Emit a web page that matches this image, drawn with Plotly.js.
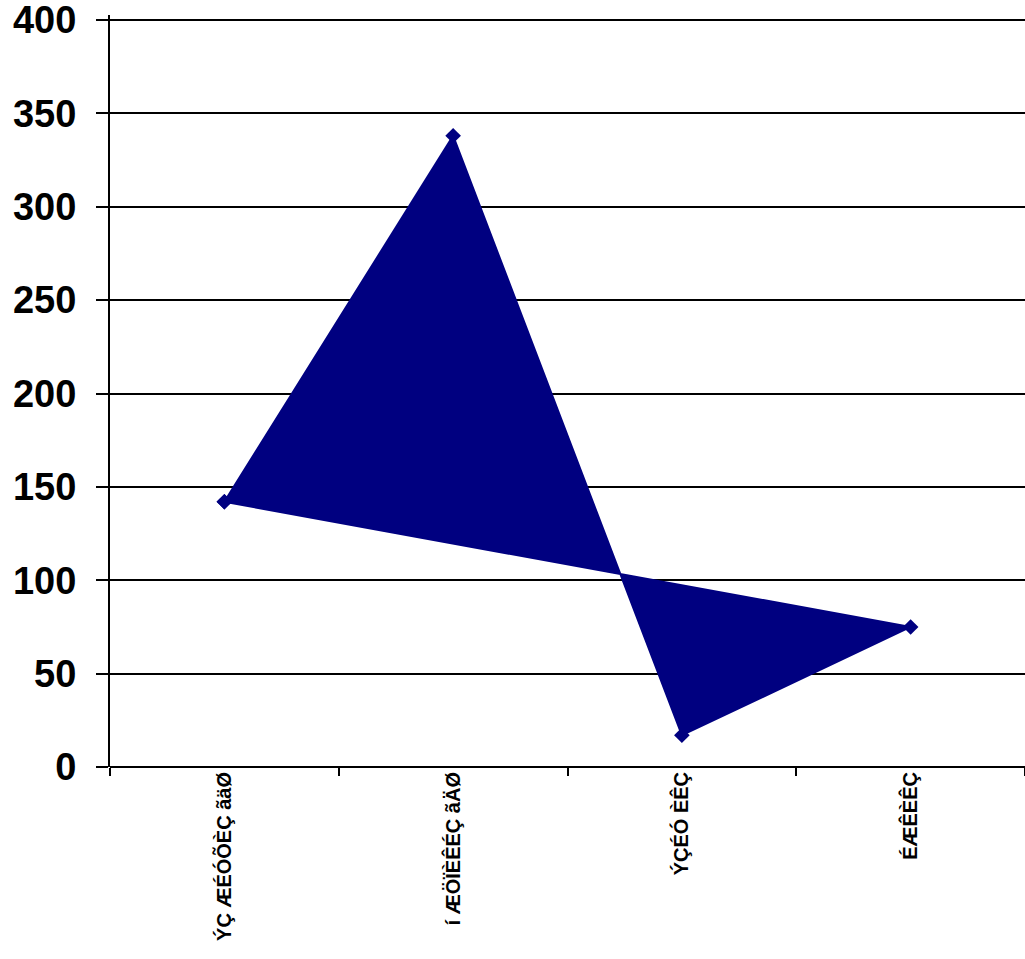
<!DOCTYPE html>
<html>
<head>
<meta charset="utf-8">
<script src="https://cdn.plot.ly/plotly-3.0.1.min.js"></script>
<style>html,body{margin:0;padding:0;background:#fff;}#chart{width:1025px;height:959px;}</style>
</head>
<body>
<div id="chart"></div>
<script>
const categories = ["ÝÇ ÆÉÓÕÈÇ ãäØ", "í ÆÖÏÈÊÉÇ ãÄØ", "ÝÇÉÓ ÈÊÇ", "ÉÆÊÈÊÇ"];
const values = [142, 338, 17, 75];
const yTicks = [0, 50, 100, 150, 200, 250, 300, 350, 400];

const xs = categories.concat([categories[0]]);
const ys = values.concat([values[0]]);

const trace = {
  x: xs,
  y: ys,
  type: "scatter",
  mode: "lines+markers",
  fill: "toself",
  fillcolor: "#000080",
  line: {color: "#000080", width: 2},
  marker: {symbol: "diamond", size: 12, color: "#000080"},
  hoverinfo: "skip",
  cliponaxis: false
};

const layout = {
  width: 1025,
  height: 959,
  margin: {l: 110, r: 0, t: 15, b: 192},
  paper_bgcolor: "#fff",
  plot_bgcolor: "#fff",
  showlegend: false,
  font: {family: "Liberation Sans, Arial, sans-serif", color: "#000"},
  xaxis: {
    type: "category",
    categoryorder: "array",
    categoryarray: categories,
    range: [-0.5, 3.5],
    showgrid: false,
    zeroline: false,
    showline: false,
    ticks: "outside",
    tickson: "boundaries",
    ticklen: 8,
    tickwidth: 2,
    tickcolor: "#000",
    tickangle: -90,
    ticklabeloverflow: "allow",
    tickfont: {size: 20, family: "Liberation Sans, Arial, sans-serif", color: "#000", weight: "bold"}
  },
  yaxis: {
    range: [0, 402.68],
    tickmode: "array",
    tickvals: yTicks,
    ticktext: yTicks.map(String),
    showgrid: true,
    gridcolor: "#000",
    gridwidth: 2,
    zeroline: true,
    zerolinecolor: "#000",
    zerolinewidth: 2,
    showline: true,
    linecolor: "#000",
    linewidth: 2,
    ticks: "outside",
    ticklen: 12,
    tickwidth: 2,
    tickcolor: "#000",
    ticklabelstandoff: 12,
    ticklabeloverflow: "allow",
    tickfont: {size: 38, family: "Liberation Sans, Arial, sans-serif", color: "#000", weight: "bold"}
  }
};

Plotly.newPlot("chart", [trace], layout, {displayModeBar: false, staticPlot: true});
</script>
</body>
</html>
